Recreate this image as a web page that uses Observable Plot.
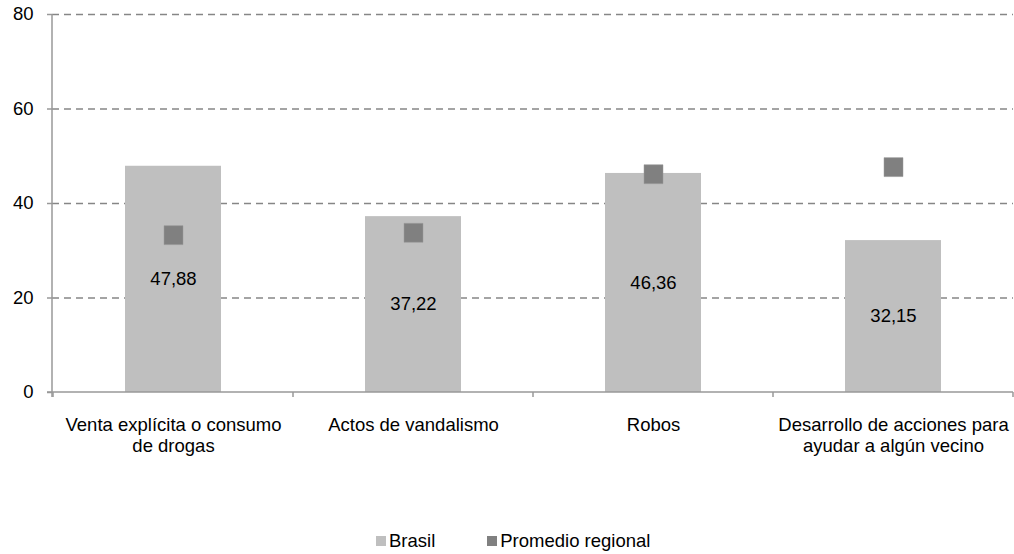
<!DOCTYPE html>
<html>
<head>
<meta charset="utf-8">
<script src="https://cdn.jsdelivr.net/npm/d3@7"></script>
<script src="https://cdn.jsdelivr.net/npm/@observablehq/plot@0.6"></script>
<style>
  html, body { margin: 0; padding: 0; background: #fff; }
  body { width: 1014px; height: 554px; position: relative; font-family: "Liberation Sans", Arial, sans-serif; overflow: hidden; }
  #chart svg { display: block; }
  .legend { position: absolute; left: 376px; top: 530px; display: flex; align-items: center; font-size: 18.5px; color: #000; }
  .legend .item { display: flex; align-items: center; }
  .legend .sw { width: 10px; height: 10px; margin-right: 3px; }
</style>
</head>
<body>
<div id="chart"></div>
<div class="legend">
  <div class="item"><span class="sw" style="background:#bfbfbf"></span><span>Brasil</span></div>
  <div class="item" style="margin-left:52px"><span class="sw" style="background:#808080"></span><span>Promedio regional</span></div>
</div>
<script>
const categories = [
  "Venta explícita o consumo de drogas",
  "Actos de vandalismo",
  "Robos",
  "Desarrollo de acciones para ayudar a algún vecino"
];
const categoryLabels = [
  "Venta explícita o consumo\nde drogas",
  "Actos de vandalismo",
  "Robos",
  "Desarrollo de acciones para\nayudar a algún vecino"
];
const brasil = [47.88, 37.22, 46.36, 32.15];
const promedioRegional = [33.3, 33.8, 46.2, 47.7];
const yTicks = [0, 20, 40, 60, 80];
const gridTicks = [20, 40, 60, 80];

const data = categories.map((c, i) => ({
  cat: c, label: categoryLabels[i], brasil: brasil[i], promedio: promedioRegional[i]
}));

const fmt = v => v.toFixed(2).replace(".", ",");
const FONT = "Liberation Sans, Arial, sans-serif";
const FS = 18.5;

function axesLines(index, scales, values, dimensions) {
  const x = scales.x, y = scales.y;
  const {marginLeft, marginRight, width} = dimensions;
  const g = d3.create("svg:g").attr("stroke", "#999").attr("stroke-width", 1.5).attr("fill", "none");
  const y0 = y(0), yTop = y(80);
  g.append("line").attr("x1", marginLeft).attr("x2", marginLeft).attr("y1", yTop).attr("y2", y0 + 5);
  g.append("line").attr("x1", marginLeft - 5).attr("x2", width - marginRight).attr("y1", y0).attr("y2", y0);
  const bw = x.bandwidth ? x.bandwidth() : (width - marginLeft - marginRight) / categories.length;
  const bounds = categories.map(c => x(c)).concat([x(categories[categories.length - 1]) + bw]);
  bounds.forEach(bx => {
    if (Math.abs(bx - marginLeft) < 1) return;
    g.append("line").attr("x1", bx).attr("x2", bx).attr("y1", y0).attr("y2", y0 + 5);
  });
  return g.node();
}

const chart = Plot.plot({
  width: 1014,
  height: 522,
  marginTop: 14,
  marginBottom: 130,
  marginLeft: 52,
  marginRight: 1,
  style: { fontFamily: FONT, fontSize: FS + "px", background: "#fff", color: "#000" },
  x: { domain: categories, padding: 0, axis: null },
  y: { domain: [0, 80], axis: null },
  marks: [
    Plot.ruleY(gridTicks, { y: d => d, stroke: "#868686", strokeWidth: 1.5, strokeDasharray: "7,5" }),
    Plot.barY(data, { x: "cat", y: "brasil", fill: "#bfbfbf", insetLeft: 72, insetRight: 72 }),
    Plot.dot(data, { x: "cat", y: "promedio", symbol: "square", r: 10.7, fill: "#808080", stroke: "#9a9a9a", strokeWidth: 0.5 }),
    Plot.text(data, { x: "cat", y: d => d.brasil / 2, text: d => fmt(d.brasil), fill: "#000", fontSize: FS }),
    Plot.axisY({ ticks: yTicks, tickSize: 5, tickPadding: 14, stroke: "#999", strokeWidth: 1.5, fontSize: FS, fill: "#000", tickFormat: d => String(d) }),
    Plot.text(data, { x: "cat", frameAnchor: "bottom", lineAnchor: "top", dy: 24, text: "label", lineHeight: 1.12, fontSize: FS, fill: "#000" }),
    axesLines
  ]
});
document.getElementById("chart").appendChild(chart);
</script>
</body>
</html>
